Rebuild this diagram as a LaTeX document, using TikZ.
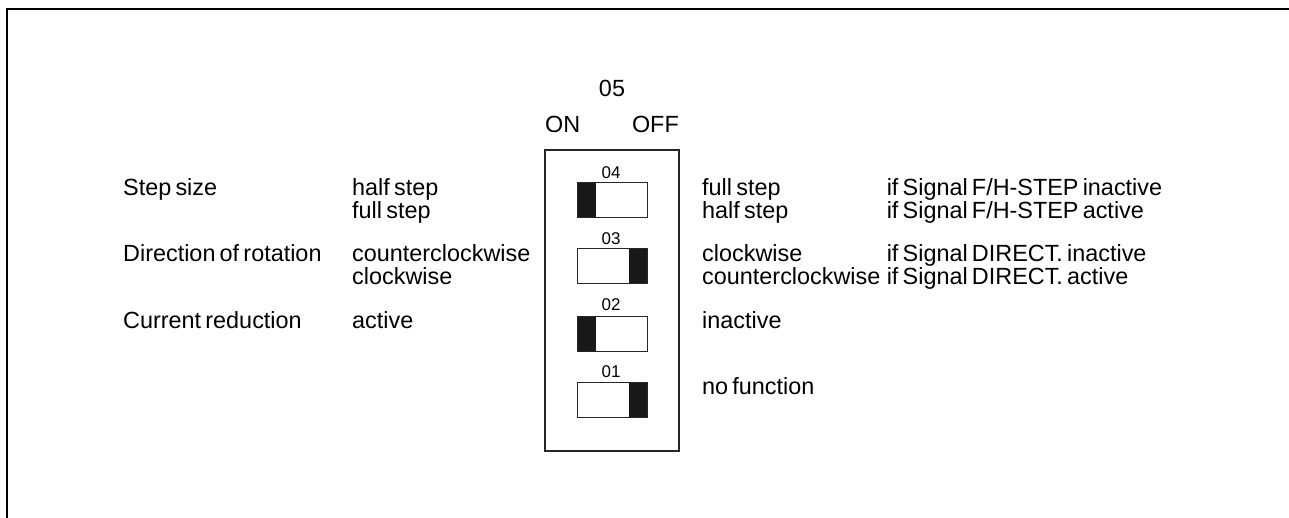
\documentclass[tikz,border=0pt]{standalone}
\usepackage{fontspec}
\setmainfont{Liberation Sans}[WordSpace=0.65]
\begin{document}
\begin{tikzpicture}[x=1pt,y=-1pt,
  txt/.style={anchor=base west,inner sep=0pt,font=\fontsize{23.4}{23}\selectfont},
  txtr/.style={anchor=base east,inner sep=0pt,font=\fontsize{23.4}{23}\selectfont},
  txtc/.style={anchor=base,inner sep=0pt,font=\fontsize{23.4}{23}\selectfont},
  num/.style={anchor=base,inner sep=0pt,font=\fontsize{17}{17}\selectfont},
  swbox/.style={minimum width=69pt,minimum height=34pt,inner sep=0pt},
  swline/.style={draw=black!85,line width=1.2pt},
  frame/.style={draw=black!85,line width=1.2pt},
  knob/.style={fill=black!90},
]
\useasboundingbox (0,0) rectangle (1289,518);
\draw[line width=2.7pt] (7,518) -- (7,9) -- (1289,9);

% DIP housing
\draw[frame] (545,150) rectangle (679,451);
\node[txtc] (t05) at (612,97) {05};
\node[txt] (on) at (545,133) {ON};
\node[txtr] (off) at (679,133) {OFF};

% switches
\node[swbox] (s4) at (612.5,200) {};
\node[swbox] (s3) at (612.5,266) {};
\node[swbox] (s2) at (612.5,334) {};
\node[swbox] (s1) at (612.5,400) {};
\fill[knob] (s4.north west) rectangle ([xshift=18pt]s4.south west);
\fill[knob] (s3.north east) rectangle ([xshift=-18pt]s3.south east);
\fill[knob] (s2.north west) rectangle ([xshift=18pt]s2.south west);
\fill[knob] (s1.north east) rectangle ([xshift=-18pt]s1.south east);
\draw[swline] (s4.north west) rectangle (s4.south east);
\draw[swline] (s3.north west) rectangle (s3.south east);
\draw[swline] (s2.north west) rectangle (s2.south east);
\draw[swline] (s1.north west) rectangle (s1.south east);
\node[num] (n4) at (611,179) {04};
\node[num] (n3) at (611,245) {03};
\node[num] (n2) at (611,311) {02};
\node[num] (n1) at (611,377) {01};

% left column
\node[txt] (l1) at (123,196) {Step size};
\node[txt] (l2) at (123,262) {Direction of rotation};
\node[txt] (l3) at (123,328) {Current reduction};
\node[txt] (a1) at (352,196) {half step};
\node[txt] (a2) at (352,219) {full step};
\node[txt] (a3) at (352,262) {counterclockwise};
\node[txt] (a4) at (352,285) {clockwise};
\node[txt] (a5) at (352,328) {active};

% right column
\node[txt] (b1) at (702,196) {full step};
\node[txt] (b2) at (702,219) {half step};
\node[txt] (b3) at (702,262) {clockwise};
\node[txt] (b4) at (702,285) {counterclockwise};
\node[txt] (b5) at (702,328) {inactive};
\node[txt] (b6) at (702,394) {no function};
\coordinate (ccol) at ([xshift=6pt]b4.base east);
\node[txt] (c1) at (ccol |- 0,196) {if Signal F/H-STEP inactive};
\node[txt] (c2) at (ccol |- 0,219) {if Signal F/H-STEP active};
\node[txt] (c3) at (ccol |- 0,262) {if Signal DIRECT. inactive};
\node[txt] (c4) at (ccol |- 0,285) {if Signal DIRECT. active};
\end{tikzpicture}
\end{document}
